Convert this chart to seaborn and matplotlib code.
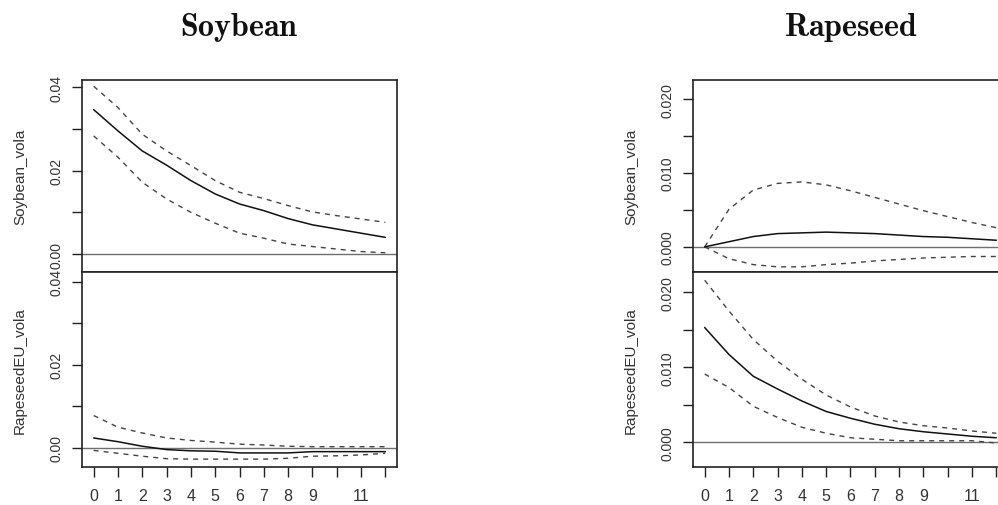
import matplotlib
matplotlib.use("Agg")
import matplotlib.pyplot as plt
import seaborn as sns

# ---------------- data ----------------
steps = list(range(13))
xtick_labels = ["0", "1", "2", "3", "4", "5", "6", "7", "8", "9", "", "11", ""]
titles = ["Soybean", "Rapeseed"]
row_labels = ["Soybean_vola", "RapeseedEU_vola"]

# Shock: Soybean
soy_on_soy = [0.0346, 0.0295, 0.0247, 0.0213, 0.0176, 0.0144, 0.0120, 0.0104, 0.0085, 0.0070, 0.0060, 0.0050, 0.0040]
soy_on_soy_hi = [0.0402, 0.0351, 0.0287, 0.0247, 0.0212, 0.0176, 0.0148, 0.0133, 0.0116, 0.0101, 0.0092, 0.0084, 0.0076]
soy_on_soy_lo = [0.0283, 0.0232, 0.0172, 0.0132, 0.0100, 0.0074, 0.0050, 0.0038, 0.0024, 0.0018, 0.0012, 0.0006, 0.0003]

soy_on_rape = [0.0024, 0.0015, 0.0004, -0.0004, -0.0007, -0.0008, -0.0012, -0.0012, -0.0012, -0.0009, -0.0009, -0.0009, -0.0009]
soy_on_rape_hi = [0.0078, 0.0050, 0.0036, 0.0024, 0.0018, 0.0014, 0.0009, 0.0007, 0.0004, 0.0003, 0.0003, 0.0003, 0.0003]
soy_on_rape_lo = [-0.0006, -0.0013, -0.0020, -0.0026, -0.0027, -0.0027, -0.0027, -0.0027, -0.0025, -0.0020, -0.0019, -0.0017, -0.0013]

# Shock: Rapeseed
rape_on_soy = [0.0000, 0.0007, 0.0014, 0.0018, 0.0019, 0.0020, 0.0019, 0.0018, 0.0016, 0.0014, 0.0013, 0.0011, 0.0009]
rape_on_soy_hi = [0.0000, 0.0051, 0.0077, 0.0086, 0.0088, 0.0084, 0.0076, 0.0067, 0.0058, 0.0049, 0.0041, 0.0033, 0.0026]
rape_on_soy_lo = [0.0000, -0.0016, -0.0024, -0.0027, -0.0027, -0.0024, -0.0022, -0.0019, -0.0017, -0.0015, -0.0014, -0.0013, -0.0013]

rape_on_rape = [0.0153, 0.0117, 0.0088, 0.0071, 0.0055, 0.0041, 0.0032, 0.0024, 0.0018, 0.0014, 0.0011, 0.0008, 0.0006]
rape_on_rape_hi = [0.0216, 0.0175, 0.0137, 0.0108, 0.0084, 0.0063, 0.0047, 0.0035, 0.0027, 0.0022, 0.0019, 0.0015, 0.0012]
rape_on_rape_lo = [0.0091, 0.0073, 0.0048, 0.0033, 0.0020, 0.0012, 0.0006, 0.0004, 0.0002, 0.0002, 0.0002, 0.0002, -0.0001]

left_yticks = [0.0, 0.01, 0.02, 0.03, 0.04]
left_ylabels = ["0.00", "", "0.02", "", "0.04"]
right_yticks = [0.0, 0.005, 0.010, 0.015, 0.020]
right_ylabels = ["0.000", "", "0.010", "", "0.020"]

# ---------------- style ----------------
sns.set_style("white")
plt.rcParams["font.family"] = ["Liberation Sans", "DejaVu Sans"]
plt.rcParams["mathtext.fontset"] = "cm"

W, H = 998, 506
fig = plt.figure(figsize=(W / 100, H / 100), dpi=100)

FRAME = "#222222"
SOLID = "#111111"
DASH = "#444444"
ZERO = "#707070"
TXT = "#333333"


def make_ax(x0, y_top, y_bot, width):
    return fig.add_axes([x0 / W, 1 - y_bot / H, width / W, (y_bot - y_top) / H])


def draw(ax, mid, lo, hi, ylim, yticks, ylabels, ylabel, bottom):
    sns.lineplot(x=steps, y=hi, ax=ax, color=DASH, lw=1.0, linestyle=(0, (3.6, 3.6)))
    sns.lineplot(x=steps, y=lo, ax=ax, color=DASH, lw=1.0, linestyle=(0, (3.6, 3.6)))
    sns.lineplot(x=steps, y=mid, ax=ax, color=SOLID, lw=1.1)
    ax.axhline(0, color=ZERO, lw=1.0, zorder=1)
    ax.set_xlim(-0.48, 12.48)
    ax.set_ylim(*ylim)
    ax.set_yticks(yticks)
    ax.set_yticklabels(ylabels, rotation=90, va="center", color=TXT, fontsize=10)
    ax.tick_params(axis="y", left=True, direction="out", length=7.2, width=1.0,
                   color=FRAME, pad=6)
    if bottom:
        ax.set_xticks(steps)
        ax.set_xticklabels(xtick_labels, color=TXT, fontsize=11.5)
        ax.tick_params(axis="x", bottom=True, direction="out", length=7.2, width=1.0,
                       color=FRAME, pad=8)
    else:
        ax.set_xticks([])
    ax.set_xlabel("")
    ax.set_ylabel(ylabel, fontsize=11, color=TXT)
    ax.yaxis.label.set_va("center")
    ax.yaxis.set_label_coords(-62 / 315, 0.5)
    for s in ax.spines.values():
        s.set_color(FRAME)
        s.set_linewidth(1.2)


AX_W = 315
# Left column (Soybean shock)
axL1 = make_ax(82, 81, 273, AX_W)
axL2 = make_ax(82, 273, 468, AX_W)
draw(axL1, soy_on_soy, soy_on_soy_lo, soy_on_soy_hi, (-0.0043, 0.0417),
     left_yticks, left_ylabels, row_labels[0], False)
draw(axL2, soy_on_rape, soy_on_rape_lo, soy_on_rape_hi, (-0.0046, 0.0424),
     left_yticks, left_ylabels, row_labels[1], True)

# Right column (Rapeseed shock)
axR1 = make_ax(693, 81, 273, AX_W)
axR2 = make_ax(693, 273, 468, AX_W)
draw(axR1, rape_on_soy, rape_on_soy_lo, rape_on_soy_hi, (-0.0034, 0.0226),
     right_yticks, right_ylabels, row_labels[0], False)
draw(axR2, rape_on_rape, rape_on_rape_lo, rape_on_rape_hi, (-0.0033, 0.0227),
     right_yticks, right_ylabels, row_labels[1], True)

fig.text((82 + AX_W / 2) / W, 1 - 36 / H, r"$\mathbf{" + titles[0] + "}$",
         ha="center", va="baseline", fontsize=23, color="#111111")
fig.text((693 + AX_W / 2) / W, 1 - 36 / H, r"$\mathbf{" + titles[1] + "}$",
         ha="center", va="baseline", fontsize=23, color="#111111")

fig.savefig("out.png", dpi=100, facecolor="white")
